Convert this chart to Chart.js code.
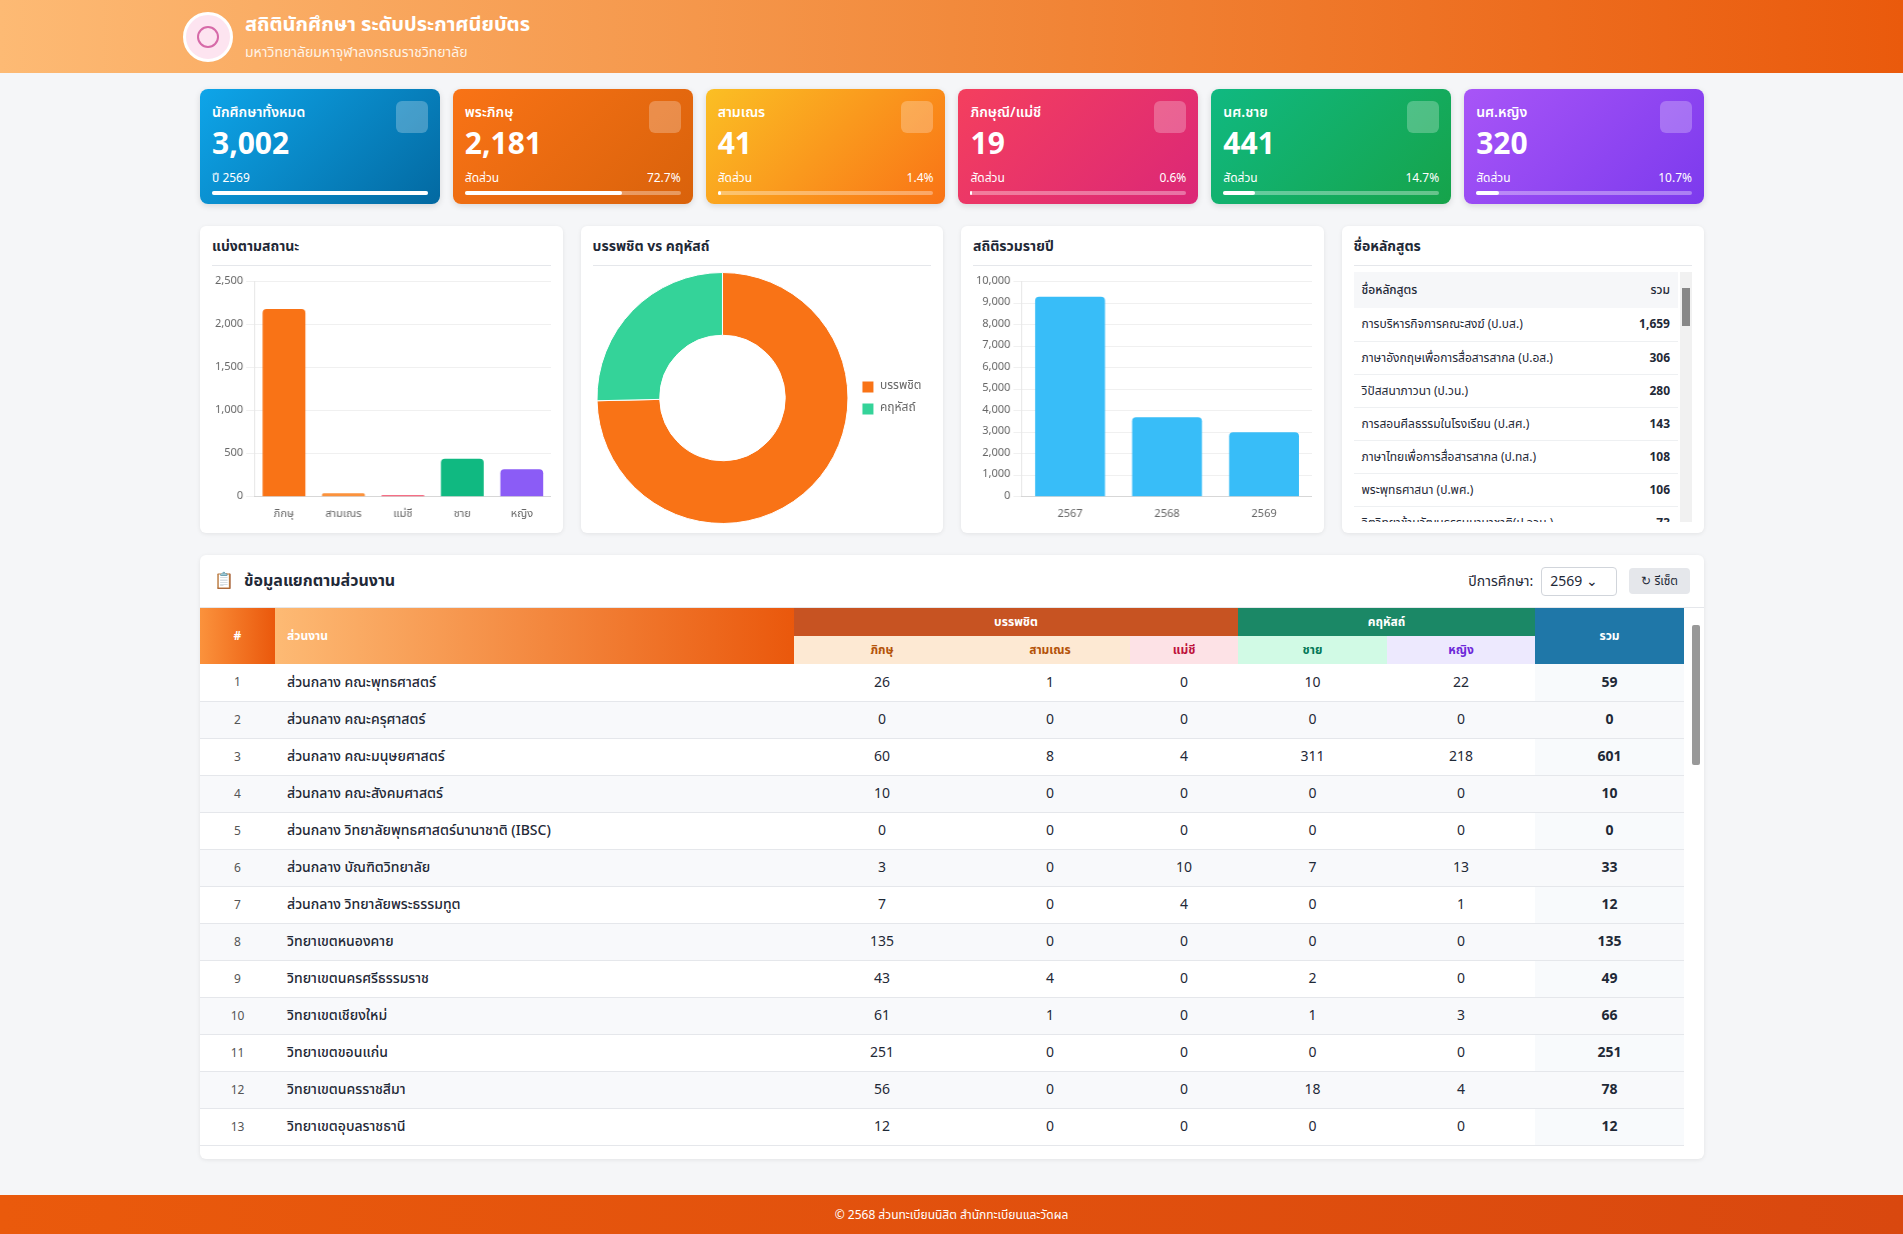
<!DOCTYPE html>
<html lang="th">
<head>
<meta charset="utf-8">
<script src="https://cdn.jsdelivr.net/npm/chart.js@4.4.1/dist/chart.umd.min.js"></script>
<style>
  * { box-sizing: border-box; }
  body { margin: 0; background: #f5f6f8; font-family: "Noto Sans Thai", "Noto Sans", "Open Sans", sans-serif; color: #1f2937; width: 1903px; height: 1234px; overflow: hidden; position: relative; }
  header { height: 73px; background: linear-gradient(90deg, #fdba74 0%, #f28a3c 50%, #ea5a0c 100%); display: flex; align-items: center; padding-left: 183px; }
  .logo { width: 50px; height: 50px; border-radius: 50%; background: #fde4f0; border: 3px solid #fff; margin-right: 12px; display: flex; align-items: center; justify-content: center; }
  .logo div { width: 22px; height: 22px; border-radius: 50%; border: 2px solid #d66aa8; }
  header h1 { margin: 0; font-size: 20px; color: #fff; font-weight: 700; }
  header p { margin: 2px 0 0; font-size: 14px; color: #fff3e6; }
  .cards { position: absolute; top: 89px; left: 200px; width: 1504px; display: grid; grid-template-columns: repeat(6, minmax(0, 1fr)); gap: 13px; }
  .card { height: 115px; border-radius: 8px; color: #fff; padding: 13px 12px; position: relative; box-shadow: 0 2px 6px rgba(0,0,0,.12); }
  .card .t { font-size: 14px; font-weight: 600; }
  .card .n { font-size: 30px; font-weight: 700; margin-top: 4px; line-height: 1.2; }
  .card .s { display: flex; justify-content: space-between; font-size: 12px; margin-top: 6px; }
  .card .bar { height: 4px; border-radius: 2px; background: rgba(255,255,255,.35); margin-top: 4px; }
  .card .bar i { display: block; height: 4px; border-radius: 2px; background: #fff; }
  .card .ic { position: absolute; right: 12px; top: 12px; width: 32px; height: 32px; border-radius: 6px; background: rgba(255,255,255,.25); }
  .panels { position: absolute; top: 226px; left: 200px; width: 1504px; display: grid; grid-template-columns: repeat(4, minmax(0, 1fr)); gap: 18px; }
  .panel { background: #fff; border-radius: 6px; height: 307px; box-shadow: 0 1px 4px rgba(0,0,0,.08); padding: 10px 12px; }
  .panel h3 { margin: 0 0 6px; font-size: 14px; font-weight: 700; padding-bottom: 8px; border-bottom: 1px solid #e5e7eb; }
  .cw { position: relative; height: 252px; }
  .course { height: 250px; overflow: hidden; font-size: 12px; position: relative; padding-right: 14px; }
  .course table { width: 100%; border-collapse: collapse; }
  .course th { background: #f6f7f9; text-align: left; font-weight: 500; padding: 9px 8px; }
  .course td { padding: 0 8px; border-bottom: 1px solid #eef0f2; height: 33px; white-space: nowrap; }
  .course td.v { text-align: right; font-weight: 700; }
  .course .sb { position: absolute; right: 0; top: 0; width: 12px; height: 250px; background: #f1f1f1; }
  .course .sb i { display: block; margin: 16px 2px 0; height: 38px; background: #888; }
  .tpanel { position: absolute; top: 555px; left: 200px; width: 1504px; height: 604px; background: #fff; border-radius: 6px; box-shadow: 0 1px 4px rgba(0,0,0,.08); overflow: hidden; }
  .thead { height: 53px; display: flex; align-items: center; padding: 0 14px; border-bottom: 1px solid #e5e7eb; }
  .thead b { font-size: 16px; margin-left: 10px; }
  .thead .ctl { margin-left: auto; font-size: 14px; display: flex; align-items: center; gap: 8px; }
  .sel { border: 1px solid #d1d5db; border-radius: 4px; padding: 3px 8px; width: 76px; }
  .btn { background: #e5e7eb; border-radius: 4px; padding: 4px 12px; font-size: 12px; margin-left: 4px; }
  table.main { border-collapse: collapse; width: 1484px; font-size: 14px; }
  table.main th { font-size: 12px; color: #fff; font-weight: 700; height: 28px; }
  table.main td { height: 37px; text-align: center; border-bottom: 1px solid #e5e7eb; }
  table.main td.nm { text-align: left; padding-left: 12px; font-weight: 500; }
  table.main td.sum { font-weight: 700; background: #f8fafc; }
  table.main td.idx { font-size: 12px; color: #555; }
  table.main tr:nth-child(even) td { background: #f8f9fb; }
  .scroll { position: absolute; right: 4px; top: 70px; width: 8px; height: 140px; background: #999; border-radius: 2px; }
  footer { position: absolute; bottom: 0; left: 0; width: 1903px; height: 39px; background: linear-gradient(90deg, #ea5a0c, #d9480f); color: #fff; font-size: 12px; display: flex; align-items: center; justify-content: center; }
</style>
</head>
<body>
<header>
  <div class="logo"><div></div></div>
  <div><h1>สถิตินักศึกษา ระดับประกาศนียบัตร</h1><p>มหาวิทยาลัยมหาจุฬาลงกรณราชวิทยาลัย</p></div>
</header>
<div class="cards" id="cards"></div>
<div class="panels">
  <div class="panel"><h3>แบ่งตามสถานะ</h3><div class="cw"><canvas id="statusChart"></canvas></div></div>
  <div class="panel"><h3>บรรพชิต vs คฤหัสถ์</h3><div class="cw"><canvas id="donutChart"></canvas></div></div>
  <div class="panel"><h3>สถิติรวมรายปี</h3><div class="cw"><canvas id="yearChart"></canvas></div></div>
  <div class="panel"><h3>ชื่อหลักสูตร</h3><div class="course"><table id="courseTable"></table><div class="sb"><i></i></div></div></div>
</div>
<div class="tpanel">
  <div class="thead"><span style="color:#ea580c;font-size:16px">📋</span><b>ข้อมูลแยกตามส่วนงาน</b>
    <div class="ctl">ปีการศึกษา: <span class="sel">2569 ⌄</span><span class="btn">↻ รีเซ็ต</span></div></div>
  <table class="main" id="mainTable"></table>
  <div class="scroll"></div>
</div>
<footer>© 2568 ส่วนทะเบียนนิสิต สำนักทะเบียนและวัดผล</footer>
<script>
// Status categories
const statusLabels = ['ภิกษุ', 'สามเณร', 'แม่ชี', 'ชาย', 'หญิง'];
const statusValues = [2181, 41, 19, 441, 320];
const statusColors = ['#f97316', '#fb923c', '#f43f5e', '#10b981', '#8b5cf6'];

// Ordained vs lay
const groupLabels = ['บรรพชิต', 'คฤหัสถ์'];
const groupValues = [2241, 761];

// Yearly totals
const yearLabels = ['2567', '2568', '2569'];
const yearValues = [9300, 3700, 3002];

// Courses
const courseNames = ['การบริหารกิจการคณะสงฆ์ (ป.บส.)', 'ภาษาอังกฤษเพื่อการสื่อสารสากล (ป.อส.)', 'วิปัสสนาภาวนา (ป.วน.)', 'การสอนศีลธรรมในโรงเรียน (ป.สศ.)', 'ภาษาไทยเพื่อการสื่อสารสากล (ป.ทส.)', 'พระพุทธศาสนา (ป.พศ.)', 'จิตวิทยาข้ามวัฒนธรรมนานาชาติ(ป.จวน.)'];
const courseTotals = [1659, 306, 280, 143, 108, 106, 73];

// Units table
const unitNames = ['ส่วนกลาง คณะพุทธศาสตร์', 'ส่วนกลาง คณะครุศาสตร์', 'ส่วนกลาง คณะมนุษยศาสตร์', 'ส่วนกลาง คณะสังคมศาสตร์', 'ส่วนกลาง วิทยาลัยพุทธศาสตร์นานาชาติ (IBSC)', 'ส่วนกลาง บัณฑิตวิทยาลัย', 'ส่วนกลาง วิทยาลัยพระธรรมทูต', 'วิทยาเขตหนองคาย', 'วิทยาเขตนครศรีธรรมราช', 'วิทยาเขตเชียงใหม่', 'วิทยาเขตขอนแก่น', 'วิทยาเขตนครราชสีมา', 'วิทยาเขตอุบลราชธานี'];
const unitMonks = [26, 0, 60, 10, 0, 3, 7, 135, 43, 61, 251, 56, 12];
const unitNovices = [1, 0, 8, 0, 0, 0, 0, 0, 4, 1, 0, 0, 0];
const unitNuns = [0, 0, 4, 0, 0, 10, 4, 0, 0, 0, 0, 0, 0];
const unitMale = [10, 0, 311, 0, 0, 7, 0, 0, 2, 1, 0, 18, 0];
const unitFemale = [22, 0, 218, 0, 0, 13, 1, 0, 0, 3, 0, 4, 0];

// Summary cards
const cardTitles = ['นักศึกษาทั้งหมด', 'พระภิกษุ', 'สามเณร', 'ภิกษุณี/แม่ชี', 'นศ.ชาย', 'นศ.หญิง'];
const cardValues = [3002, 2181, 41, 19, 441, 320];
const cardGradients = ['linear-gradient(135deg,#0ea5e9,#0369a1)', 'linear-gradient(135deg,#f97316,#d9620b)', 'linear-gradient(135deg,#fbbf24,#f97316)', 'linear-gradient(135deg,#f43f5e,#db2777)', 'linear-gradient(135deg,#10b981,#16a34a)', 'linear-gradient(135deg,#a855f7,#7c3aed)'];

const fmt = v => v.toLocaleString('en-US');
const total = cardValues[0];

document.getElementById('cards').innerHTML = cardTitles.map((t, i) => {
  const pct = i === 0 ? 100 : cardValues[i] / total * 100;
  const left = i === 0 ? 'ปี 2569' : 'สัดส่วน';
  const right = i === 0 ? '' : pct.toFixed(1) + '%';
  return `<div class="card" style="background:${cardGradients[i]}"><div class="ic"></div>
    <div class="t">${t}</div><div class="n">${fmt(cardValues[i])}</div>
    <div class="s"><span>${left}</span><span>${right}</span></div>
    <div class="bar"><i style="width:${pct}%"></i></div></div>`;
}).join('');

document.getElementById('courseTable').innerHTML =
  '<tr><th>ชื่อหลักสูตร</th><th style="text-align:right">รวม</th></tr>' +
  courseNames.map((n, i) => `<tr><td>${n}</td><td class="v">${fmt(courseTotals[i])}</td></tr>`).join('');

let rows = `<tr>
  <th rowspan="2" style="width:75px;background:linear-gradient(90deg,#fb923c,#ea580c)">#</th>
  <th rowspan="2" style="width:519px;text-align:left;padding-left:12px;background:linear-gradient(90deg,#fdba74,#ea580c)">ส่วนงาน</th>
  <th colspan="3" style="background:#c75322">บรรพชิต</th>
  <th colspan="2" style="background:#1b8866">คฤหัสถ์</th>
  <th rowspan="2" style="width:149px;background:#1f77a8">รวม</th></tr>
  <tr><th style="width:176px;background:#fde9d3;color:#b45309">ภิกษุ</th>
  <th style="width:160px;background:#fde9d3;color:#b45309">สามเณร</th>
  <th style="width:108px;background:#fde2e6;color:#be123c">แม่ชี</th>
  <th style="width:149px;background:#d1fae5;color:#047857">ชาย</th>
  <th style="width:148px;background:#ede9fe;color:#6d28d9">หญิง</th></tr>`;
unitNames.forEach((n, i) => {
  const s = unitMonks[i] + unitNovices[i] + unitNuns[i] + unitMale[i] + unitFemale[i];
  rows += `<tr><td class="idx">${i + 1}</td><td class="nm">${n}</td><td>${unitMonks[i]}</td><td>${unitNovices[i]}</td><td>${unitNuns[i]}</td><td>${unitMale[i]}</td><td>${unitFemale[i]}</td><td class="sum">${s}</td></tr>`;
});
document.getElementById('mainTable').innerHTML = rows;

Chart.defaults.font.family = '"Noto Sans Thai", "Noto Sans", sans-serif';
Chart.defaults.font.size = 11;
Chart.defaults.color = '#666';

const barOpts = (max, step) => ({
  responsive: true,
  maintainAspectRatio: false,
  plugins: { legend: { display: false } },
  scales: {
    x: { grid: { display: false } },
    y: { min: 0, max: max, ticks: { stepSize: step, callback: v => fmt(v) }, grid: { color: '#f0f0f0' } }
  }
});

new Chart(document.getElementById('statusChart'), {
  type: 'bar',
  data: { labels: statusLabels, datasets: [{ data: statusValues, backgroundColor: statusColors, borderRadius: 4, categoryPercentage: 0.8, barPercentage: 0.9 }] },
  options: barOpts(2500, 500)
});

new Chart(document.getElementById('donutChart'), {
  type: 'doughnut',
  data: { labels: groupLabels, datasets: [{ data: groupValues, backgroundColor: ['#f97316', '#34d399'], borderWidth: 1 }] },
  options: {
    responsive: true, maintainAspectRatio: false, cutout: '50%',
    plugins: { legend: { position: 'right', labels: { boxWidth: 12, boxHeight: 12, font: { size: 12 } } } }
  }
});

new Chart(document.getElementById('yearChart'), {
  type: 'bar',
  data: { labels: yearLabels, datasets: [{ data: yearValues, backgroundColor: '#38bdf8', borderRadius: 4, categoryPercentage: 0.8, barPercentage: 0.9 }] },
  options: barOpts(10000, 1000)
});
</script>
</body>
</html>
